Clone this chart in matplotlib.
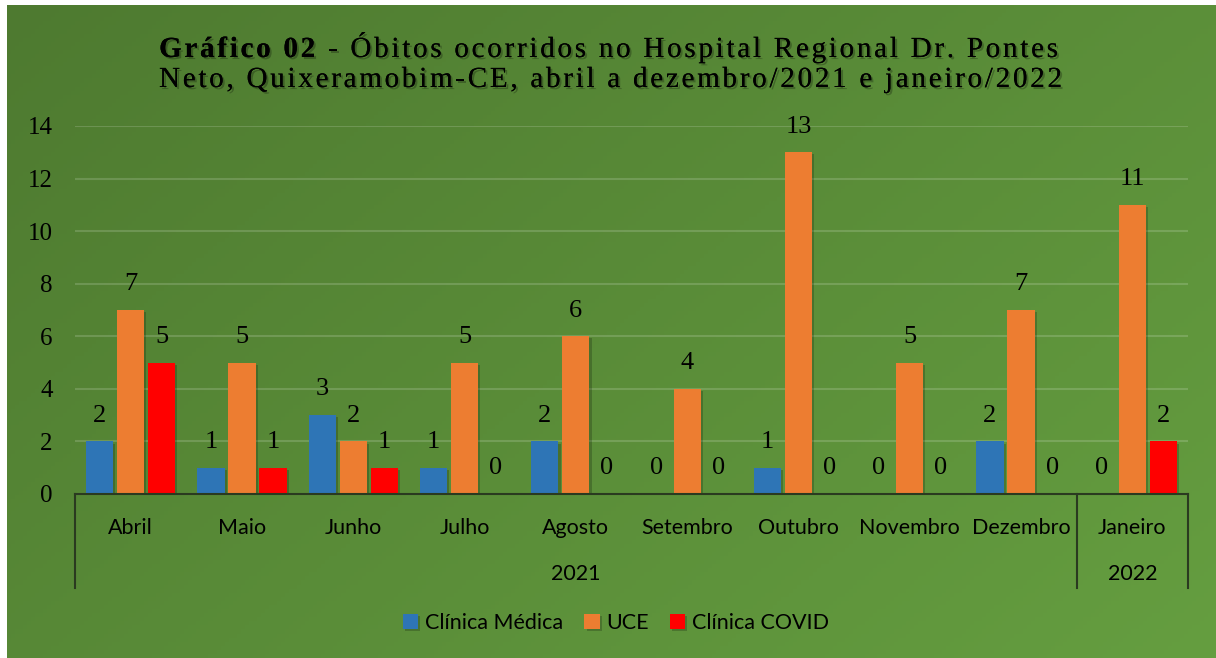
import numpy as np
import matplotlib
matplotlib.use("Agg")
import matplotlib.pyplot as plt
import matplotlib.patheffects as pe
from matplotlib.font_manager import FontProperties, findfont, get_font

# dados do gráfico
meses = ["Abril", "Maio", "Junho", "Julho", "Agosto", "Setembro", "Outubro",
         "Novembro", "Dezembro", "Janeiro"]
anos = ["2021", "2022"]
clinica_medica = [2, 1, 3, 1, 2, 0, 1, 0, 2, 0]
uce = [7, 5, 2, 5, 6, 4, 13, 5, 7, 11]
clinica_covid = [5, 1, 1, 0, 0, 0, 0, 0, 0, 2]
series = ["Clínica Médica", "UCE", "Clínica COVID"]
cores = ["#2E75B6", "#ED7D31", "#FF0000"]

W, H = 1216, 658
fig = plt.figure(figsize=(W / 100, H / 100), dpi=100)
fig.patch.set_facecolor("white")

# fundo verde com gradiente
bg = fig.add_axes([7 / W, 0, 1 - 7 / W, 1 - 5 / H])
gx, gy = np.meshgrid(np.linspace(0, 1, 300), np.linspace(0, 1, 160))
f = np.clip(0.6 * gx + 0.4 * gy, 0, 1)
escuro = np.array([78, 122, 48]) / 255
claro = np.array([101, 158, 64]) / 255
img = escuro[None, None, :] + (claro - escuro)[None, None, :] * f[:, :, None]
bg.imshow(img, aspect="auto", extent=[0, 1, 0, 1], origin="upper")
bg.set_axis_off()

# área do gráfico
x0, x1, ybase, ytop = 75, 1188, 494, 126
ax = fig.add_axes([x0 / W, (H - ybase) / H, (x1 - x0) / W, (ybase - ytop) / H])
ax.set_facecolor("none")
ax.set_xlim(-0.5, len(meses) - 0.5)
ax.set_ylim(0, 14)

x = np.arange(len(meses))
larg = 0.245
desl = 0.279
sombra = [pe.withSimplePatchShadow(offset=(1.5, -1.5), shadow_rgbFace="black", alpha=0.2), pe.Normal()]
serif = "Liberation Serif"
for i, (vals, cor) in enumerate(zip([clinica_medica, uce, clinica_covid], cores)):
    pos = x + (i - 1) * desl
    barras = ax.bar(pos, vals, width=larg, color=cor, label=series[i], zorder=3)
    for b in barras:
        b.set_path_effects(sombra)
    for p, v in zip(pos, vals):
        ax.annotate(str(v), (p, v), xytext=(0, 18.5), textcoords="offset points",
                    ha="center", va="center", fontsize=19, family=serif, zorder=4)

ax.set_yticks(range(0, 15, 2))
ax.set_yticklabels([str(v) for v in range(0, 15, 2)], fontsize=18, family=serif)
ax.tick_params(axis="y", length=0, pad=16)
ax.grid(axis="y", color="white", alpha=0.16, lw=1.5, zorder=0)
for s in ["left", "right", "top"]:
    ax.spines[s].set_visible(False)
ax.spines["bottom"].set_color("#2a3a20")
ax.spines["bottom"].set_linewidth(1.5)
ax.spines["bottom"].set_zorder(5)

# eixo de categorias em dois níveis
sans = "Lato"
ax.set_xticks(x)
ax.set_xticklabels(meses, fontsize=15.5, family=sans)
ax.tick_params(axis="x", length=0, pad=17)
trans = ax.get_xaxis_transform()
yfim = -(588 - ybase) / (ybase - ytop)
for xv in [-0.5, 8.5, 9.5]:
    ax.plot([xv, xv], [0, yfim], color="#2a3a20", lw=1.5, transform=trans, clip_on=False)
yano = -(574 - ybase) / (ybase - ytop)
ax.text(4, yano, anos[0], transform=trans, ha="center", va="center", fontsize=15.5, family=sans)
ax.text(9, yano, anos[1], transform=trans, ha="center", va="center", fontsize=15.5, family=sans)

# legenda
leg = fig.legend(loc="center", bbox_to_anchor=(616 / W, (H - 623) / H), ncol=3,
                 frameon=False, prop={"family": sans, "size": 15.5},
                 handlelength=0.7, handleheight=0.7, handletextpad=0.3, columnspacing=1.0)

# título com espaçamento entre letras
def avanco(ch, fp):
    fonte = get_font(findfont(fp))
    fonte.set_size(fp.get_size_in_points(), 100)
    g = fonte.load_char(ord(ch))
    return g.linearHoriAdvance / 65536

linhas = [
    ([("Gráfico 02 -", "bold"), (" Óbitos ocorridos no Hospital Regional Dr. Pontes", "normal")], 57, 159, 1058),
    ([("Neto, Quixeramobim-CE, abril a dezembro/2021 e janeiro/2022", "normal")], 87, 159, 1062),
]
tsombra = [pe.withSimplePatchShadow(offset=(1.5, -1.5), shadow_rgbFace="black", alpha=0.25), pe.Normal()]
for segs, yb, xa, xb in linhas:
    chars = []
    for txt, peso in segs:
        fp = FontProperties(family=serif, size=21, weight=peso)
        for ch in txt:
            chars.append((ch, fp, peso, avanco(ch, fp)))
    natural = sum(c[3] for c in chars)
    esp = ((xb - xa) - natural) / (len(chars) - 1)
    xp = xa
    for ch, fp, peso, adv in chars:
        if ch != " ":
            fig.text((xp + adv / 2) / W, (H - yb) / H, ch, ha="center", va="baseline",
                     fontsize=21, family=serif, weight=peso, path_effects=tsombra)
        xp += adv + esp

fig.savefig("out.png", dpi=100)
